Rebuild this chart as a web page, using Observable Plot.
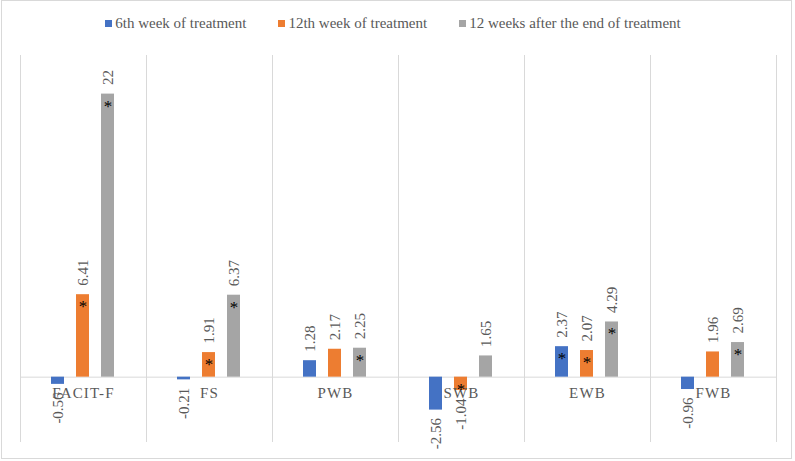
<!DOCTYPE html>
<html>
<head>
<meta charset="utf-8">
<script src="https://cdn.jsdelivr.net/npm/d3@7"></script>
<script src="https://cdn.jsdelivr.net/npm/@observablehq/plot@0.6"></script>
<style>
  html, body { margin: 0; padding: 0; background: #fff; }
  #wrap { position: relative; width: 795px; height: 461px; overflow: hidden; font-family: "Liberation Serif", "Times New Roman", serif; }
  #border { position: absolute; left: 1px; top: 0; width: 791px; height: 459px; border: 1px solid #d9d9d9; box-sizing: border-box; pointer-events: none; }
  #legend { height: 46px; display: flex; justify-content: center; align-items: center; gap: 32px; margin-left: -9px; color: #595959; font-size: 15px; }
  .item { display: flex; align-items: center; gap: 3px; }
  .sw { width: 7px; height: 7px; display: inline-block; margin-top: 1px; }
  svg { display: block; }
</style>
</head>
<body>
<div id="wrap">
  <div id="legend"></div>
  <div id="chart"></div>
  <div id="border"></div>
</div>
<script>
const categories = ["FACIT-F", "FS", "PWB", "SWB", "EWB", "FWB"];
const seriesNames = ["6th week of treatment", "12th week of treatment", "12 weeks after the end of treatment"];
const seriesColors = ["#4472C4", "#ED7D31", "#A5A5A5"];
const week6 = [-0.56, -0.21, 1.28, -2.56, 2.37, -0.96];
const week12 = [6.41, 1.91, 2.17, -1.04, 2.07, 1.96];
const after12 = [22, 6.37, 2.25, 1.65, 4.29, 2.69];
const sig6 = [false, false, false, false, true, false];
const sig12 = [true, true, false, true, true, false];
const sigAfter = [true, true, true, false, true, true];

const seriesValues = [week6, week12, after12];
const seriesSig = [sig6, sig12, sigAfter];
const data = [];
categories.forEach((c, i) => {
  seriesNames.forEach((s, j) => {
    data.push({cat: c, series: s, value: seriesValues[j][i], sig: seriesSig[j][i]});
  });
});

// legend
const legend = document.getElementById("legend");
seriesNames.forEach((s, j) => {
  const it = document.createElement("div");
  it.className = "item";
  const sw = document.createElement("span");
  sw.className = "sw";
  sw.style.background = seriesColors[j];
  const tx = document.createElement("span");
  tx.textContent = s;
  it.appendChild(sw); it.appendChild(tx);
  legend.appendChild(it);
});

const font = "Liberation Serif, Times New Roman, serif";
const grid = "#d9d9d9";
const textCol = "#595959";

const chart = Plot.plot({
  width: 795,
  height: 415,
  marginLeft: 20,
  marginRight: 19,
  marginTop: 9,
  marginBottom: 20,
  style: {fontFamily: font, background: "transparent"},
  fx: {domain: categories, padding: 0, axis: null},
  x: {domain: seriesNames, paddingInner: 0.47, paddingOuter: 1.2, axis: null},
  y: {domain: [-5, 25], axis: null},
  color: {domain: seriesNames, range: seriesColors},
  marks: [
    Plot.frame({anchor: "left", stroke: grid}),
    Plot.frame({anchor: "right", stroke: grid}),
    Plot.ruleY([0], {stroke: grid, strokeWidth: 1}),
    Plot.barY(data, {fx: "cat", x: "series", y: "value", fill: "series"}),
    Plot.text(categories, {fx: d => d, y: d => 0, text: d => d, dy: 16, fontSize: 15, fill: textCol, lineAnchor: "middle"}),
    Plot.text(data.filter(d => d.value >= 0), {fx: "cat", x: "series", y: "value", text: d => String(d.value), rotate: -90, textAnchor: "start", lineAnchor: "middle", dy: -9, fontSize: 15, fill: textCol}),
    Plot.text(data.filter(d => d.value < 0), {fx: "cat", x: "series", y: "value", text: d => String(d.value), rotate: -90, textAnchor: "end", lineAnchor: "middle", dy: 8, fontSize: 15, fill: textCol}),
    Plot.text(data.filter(d => d.sig), {fx: "cat", x: "series", y: d => Math.max(d.value, 0), text: d => "*", dy: 12, fontSize: 17, fill: "#000", lineAnchor: "middle"})
  ]
});
const catSet = new Set(categories);
chart.querySelectorAll("text").forEach(t => {
  if (catSet.has(t.textContent)) {
    t.style.letterSpacing = "1.2px";
  }
});
document.getElementById("chart").appendChild(chart);
</script>
</body>
</html>
